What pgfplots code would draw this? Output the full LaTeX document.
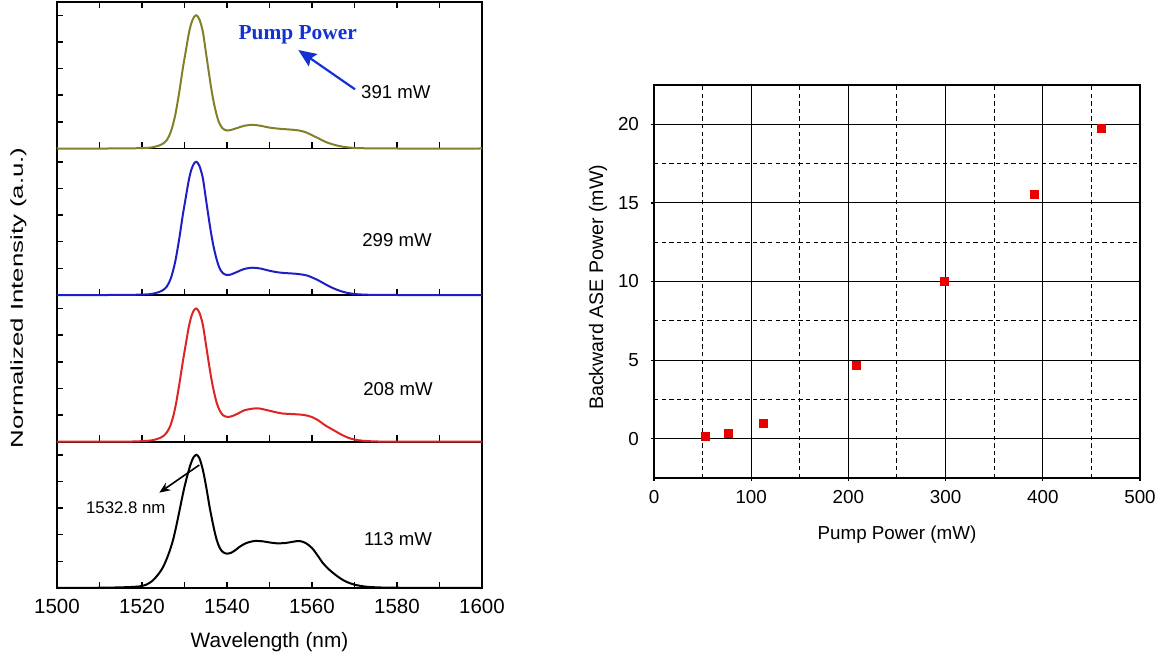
\documentclass[border=0pt]{standalone}
\usepackage{graphicx}
\usepackage{pgfplots}
\pgfplotsset{compat=1.18}
\usepackage{fontspec}
\setmainfont{Liberation Sans}
\newfontfamily\tnr{Liberation Serif}
\usetikzlibrary{arrows.meta}

\definecolor{olivec}{RGB}{128,128,40}
\definecolor{bluec}{RGB}{30,30,200}
\definecolor{redc}{RGB}{222,35,35}
\definecolor{pumpblue}{RGB}{20,50,210}
\definecolor{markred}{RGB}{235,0,0}

% 391 mW
\pgfplotstableread{
x y
1500 0
1512 0
1517 0.001
1520 0.003
1521.8 0.006
1523 0.013
1524 0.022
1525 0.038
1525.8 0.062
1526.6 0.11
1527.3 0.18
1528 0.28
1528.8 0.43
1529.6 0.6
1530.4 0.75
1531 0.86
1531.6 0.94
1532.2 0.985
1532.8 1.0
1533.5 0.97
1534.3 0.88
1535 0.73
1535.6 0.6
1536.2 0.47
1536.8 0.36
1537.5 0.26
1538.2 0.19
1539 0.15
1540 0.135
1541 0.14
1542.5 0.155
1544 0.17
1546 0.178
1548 0.17
1550 0.157
1552.4 0.148
1555 0.142
1557 0.135
1558.5 0.122
1560 0.1
1561.6 0.075
1563.3 0.048
1565 0.03
1566.5 0.018
1568 0.01
1569.6 0.005
1572 0.002
1576 0.0005
1580 0
1600 0
}\specA

% 299 mW
\pgfplotstableread{
x y
1500 0
1512 0
1517 0.001
1520 0.003
1521.8 0.006
1523 0.013
1524 0.022
1525 0.038
1525.8 0.062
1526.6 0.11
1527.3 0.18
1528 0.28
1528.8 0.43
1529.6 0.6
1530.4 0.75
1531 0.86
1531.6 0.94
1532.2 0.985
1532.8 1.0
1533.5 0.97
1534.3 0.88
1535 0.73
1535.6 0.6
1536.2 0.475
1536.8 0.37
1537.5 0.275
1538.2 0.205
1539 0.165
1540 0.15
1541 0.155
1542.5 0.175
1544 0.195
1546 0.205
1548 0.198
1550 0.182
1552 0.17
1554 0.164
1556 0.16
1558 0.152
1559 0.145
1560 0.132
1561.5 0.11
1563 0.083
1564.5 0.058
1566 0.038
1567.5 0.022
1569 0.012
1570.5 0.006
1573 0.002
1577 0.0005
1580 0
1600 0
}\specB

% 208 mW
\pgfplotstableread{
x y
1500 0
1512 0
1517 0.001
1520 0.004
1521.8 0.008
1523 0.015
1524 0.025
1525 0.042
1525.8 0.068
1526.6 0.115
1527.3 0.185
1528 0.285
1528.8 0.435
1529.6 0.6
1530.4 0.75
1531 0.86
1531.6 0.94
1532.2 0.985
1532.8 1.0
1533.5 0.97
1534.3 0.88
1535 0.74
1535.6 0.615
1536.2 0.495
1536.8 0.395
1537.5 0.3
1538.2 0.24
1539 0.2
1540 0.187
1541 0.19
1542.5 0.21
1544 0.235
1546 0.248
1547.5 0.25
1549 0.24
1551 0.225
1553 0.212
1555.6 0.207
1557.5 0.203
1559 0.195
1560 0.185
1561.5 0.16
1563 0.125
1565 0.088
1567 0.052
1568.5 0.03
1570 0.016
1572 0.007
1575 0.002
1580 0
1600 0
}\specC

% 113 mW
\pgfplotstableread{
x y
1500 0
1505 0.001
1510 0.002
1514 0.004
1517 0.007
1519.4 0.012
1521 0.025
1522.5 0.055
1524 0.11
1525 0.16
1526.2 0.25
1527.3 0.36
1528.3 0.5
1529.2 0.64
1530 0.76
1530.8 0.86
1531.5 0.935
1532.1 0.98
1532.8 1.0
1533.5 0.975
1534.3 0.89
1535.1 0.76
1535.9 0.61
1536.7 0.48
1537.5 0.37
1538.3 0.3
1539.1 0.268
1540 0.258
1541 0.265
1542 0.285
1543 0.31
1544.5 0.337
1546.5 0.353
1548.5 0.35
1550 0.342
1551.6 0.336
1553.5 0.337
1555.5 0.347
1557 0.353
1558.5 0.338
1560 0.3
1561.3 0.245
1562.5 0.19
1563.7 0.148
1565 0.112
1566.5 0.076
1568 0.048
1570 0.025
1572.7 0.01
1576 0.004
1580 0.002
1590 0.0005
1600 0
}\specD

\pgfplotstableread{
x y
53 0.12
77 0.32
113 0.95
208 4.67
299 9.99
391 15.57
460 19.72
}\ase

\pgfplotsset{
 spec/.style={
  scale only axis, width=212.5pt, height=73.25pt,
  anchor=south west,
  xmin=1500, xmax=1600, ymin=0, ymax=1.1,
  xtick={1500,1520,1540,1560,1580,1600}, minor x tick num=1,
  ytick={0,0.2,0.4,0.6,0.8,1}, yticklabels={},
  xticklabels={},
  xtick pos=left, ytick pos=left,
  tick align=inside,
  major tick length=3.2pt, minor tick length=3.2pt,
  axis line style={line width=0.9pt},
  every tick/.style={black, line width=0.75pt},
  clip=false,
 },
 curve/.style={line width=1pt, smooth},
}

\begin{document}
\begin{tikzpicture}[x=1pt,y=1pt]
\useasboundingbox (0,0) rectangle (582,330);

% bottom panel (113 mW)
\begin{axis}[spec, at={(28.5pt,36pt)},
  xticklabels={1500,1520,1540,1560,1580,1600},
  xticklabel style={font=\fontsize{10.25}{12}\selectfont, yshift=-2pt},
  xlabel={Wavelength (nm)},
  xlabel style={font=\fontsize{10.4}{12}\selectfont, at={(axis description cs:0.5,-0.3666)}, anchor=center},
]
\addplot[curve, black] table[x=x,y=y] {\specD};
\end{axis}

% 208 mW
\begin{axis}[spec, at={(28.5pt,109.15pt)}]
\addplot[curve, redc] table[x=x,y=y] {\specC};
\end{axis}

% 299 mW
\begin{axis}[spec, at={(28.5pt,182.5pt)}]
\addplot[curve, bluec] table[x=x,y=y] {\specB};
\end{axis}

% 391 mW
\begin{axis}[spec, at={(28.5pt,255.75pt)}, xtick pos=both]
\addplot[curve, olivec] table[x=x,y=y] {\specA};
\end{axis}

% annotations
\node[font=\fontsize{10.7}{12}\selectfont\tnr\bfseries, text=pumpblue, anchor=base] at (148.85,310.25) {Pump Power};
\draw[pumpblue, line width=1.1pt, -{Stealth[length=9pt,width=7.5pt,inset=1.5pt]}] (177.5,285.35) -- (149.15,305);
\node[font=\fontsize{9.3}{11}\selectfont] at (197.9,283.9) {391 mW};
\node[font=\fontsize{9.3}{11}\selectfont] at (198.5,209.85) {299 mW};
\node[font=\fontsize{9.3}{11}\selectfont] at (199,135.6) {208 mW};
\node[font=\fontsize{9.3}{11}\selectfont] at (199,60.6) {113 mW};
\node[font=\fontsize{8.4}{10}\selectfont] at (62.9,76) {1532.8 nm};
\draw[black, line width=0.8pt, -{Stealth[length=5.5pt,width=4.5pt]}] (99.65,97.5) -- (79.65,83.65);
\node[font=\fontsize{8.6}{10}\selectfont, rotate=90] at (9.25,181) {\scalebox{1.5}[1]{Normalized Intensity (a.u.)}};

% right chart
\begin{axis}[at={(327pt,91pt)}, anchor=south west, scale only axis,
  width=243pt, height=196.5pt,
  xmin=0, xmax=500, ymin=-2.5, ymax=22.5,
  xtick={0,100,200,300,400,500}, ytick={0,5,10,15,20},
  minor x tick num=1, minor y tick num=1,
  grid=both,
  major grid style={black, line width=0.5pt},
  minor grid style={black, line width=0.5pt, dash pattern=on 2.2pt off 1.6pt},
  tick align=outside, xtick pos=left, ytick pos=left,
  major tick length=1.5pt, minor tick length=0pt,
  axis line style={line width=0.9pt},
  every tick/.style={black, line width=0.6pt},
  /pgf/number format/assume math mode=true,
  tick label style={font=\fontsize{9.4}{11}\selectfont},
  xticklabel style={yshift=-1pt},
  yticklabel style={xshift=-2.5pt},
  xlabel={Pump Power (mW)},
  ylabel={Backward ASE Power (mW)},
  xlabel style={font=\fontsize{9.4}{11}\selectfont, at={(axis description cs:0.5,-0.145)}, anchor=center},
  ylabel style={font=\fontsize{9.8}{11}\selectfont, at={(axis description cs:-0.115,0.485)}, anchor=center},
]
\addplot[only marks, mark=square*, mark size=2pt, mark options={fill=markred, draw=markred}] table[x=x,y=y] {\ase};
\end{axis}
\end{tikzpicture}
\end{document}
